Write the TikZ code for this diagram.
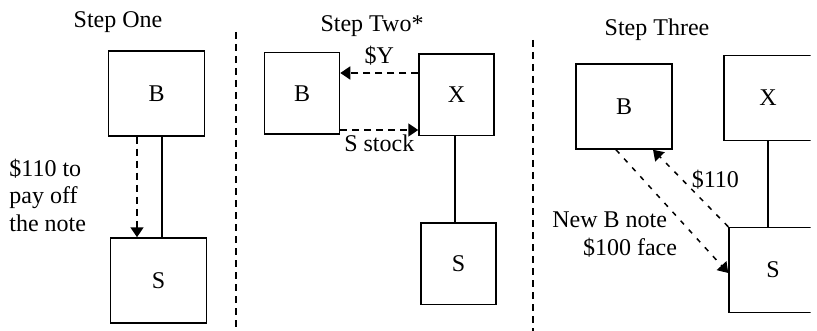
\documentclass[tikz,border=0pt]{standalone}
\usepackage{fontspec}
\setmainfont{Liberation Serif}
\usetikzlibrary{arrows.meta}

\begin{document}
\begin{tikzpicture}[x=0.5pt,y=-0.5pt,line width=0.75pt,every node/.style={font=\fontsize{12}{13.75}\selectfont},entity/.style={draw,rectangle,inner sep=0pt,minimum width=48pt,minimum height=42.5pt},slim/.style={minimum width=37.5pt,minimum height=40.75pt},every edge/.style={draw},transfer/.style={dash pattern=on 3.5pt off 2.5pt,-{Triangle[length=5pt,width=6.5pt]}},sparse/.style={dash pattern=on 2.5pt off 3.5pt},divider/.style={dash pattern=on 3.5pt off 2.5pt,line width=0.7pt}]
\useasboundingbox (0,0) rectangle (817,331);
\clip (0,0) rectangle (810.5,331);
\node (one) at (118,22) {Step One};
\node (two) at (372,26) {Step Two*};
\node (three) at (657,30) {Step Three};
\node[entity] (b1) at (156.5,93.5) {B};
\node[entity] (s1) at (158.5,280.5) {S};
\node[entity,slim] (b2) at (302,93.5) {B};
\node[entity,slim] (x2) at (456.5,95) {X};
\node[entity,slim] (s2) at (458.5,263.5) {S};
\node[entity] (b3) at (624,106.5) {B};
\node[entity,minimum width=44pt] (x3) at (768,98) {X};
\node[entity,minimum width=44pt] (s3) at (773,270) {S};
\node[align=left,anchor=west] (note1) at (2,195) {\$110 to\\pay off\\the note};
\draw[divider] (236,32) -- (236,331);
\draw[divider] (533,40) -- (533,331);
\path ([xshift=-9.75pt]b1.south) edge[transfer] ([xshift=-9.75pt]b1.south |- s1.north);
\path ([xshift=2.75pt]b1.south) edge ([xshift=2.75pt]b1.south |- s1.north);
\path ([yshift=11pt]x2.west) edge[transfer] node[above] {\$Y} ([yshift=11pt]x2.west -| b2.east);
\path ([yshift=-18.25pt]b2.east) edge[transfer] node[below,inner sep=2pt] {S stock} ([yshift=-18.25pt]b2.east -| x2.west);
\path ([xshift=-0.75pt]x2.south) edge ([xshift=-0.75pt]x2.south |- s2.north);
\path (x3.south) edge (x3.south |- s3.north);
\path ([xshift=-4pt]b3.south) edge[transfer,sparse] node[pos=0.69,anchor=east,xshift=-4.5pt,align=right] {New B note\hspace*{5pt}\\\$100 face} ([yshift=-1.5pt]s3.west);
\path (s3.north west) edge[transfer,sparse] node[pos=0.61,anchor=west,xshift=1pt] {\$110} ([xshift=14.5pt]b3.south);
\end{tikzpicture}
\end{document}
